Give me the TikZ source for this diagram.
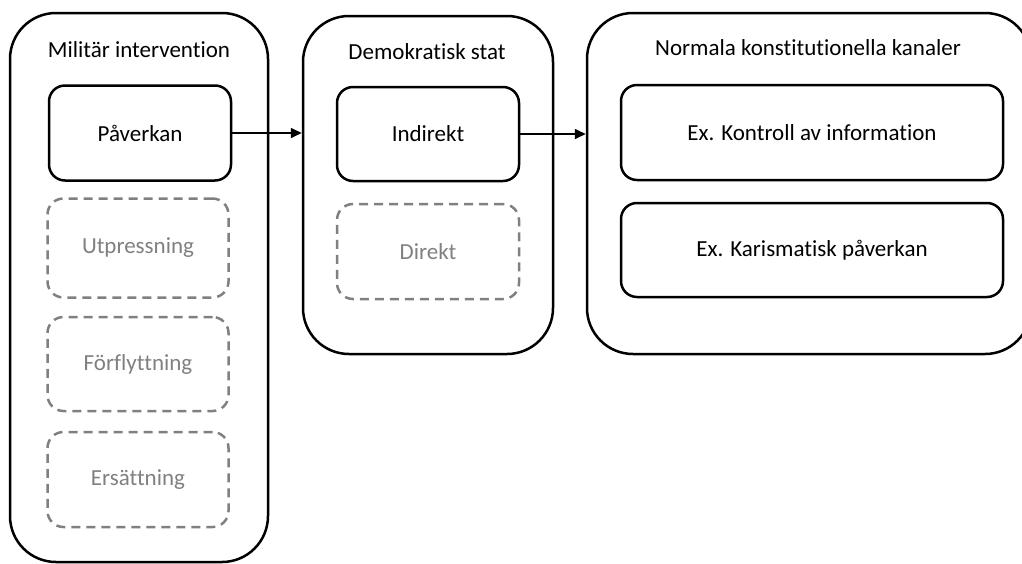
\documentclass[tikz,border=0pt]{standalone}
\usepackage{fontspec}
\setmainfont{Carlito}[Ligatures=NoCommon]
\usetikzlibrary{arrows.meta}
\tikzset{
  outerbox/.style={draw=black, line width=2.5pt, rounded corners=46pt, inner sep=0pt},
  solidbox/.style={draw=black, line width=2.5pt, rounded corners=16pt, inner sep=0pt,
    font=\fontsize{23}{27}\selectfont},
  ghostbox/.style={draw=black!50, line width=2.5pt, rounded corners=16pt, inner sep=0pt,
    dash pattern=on 9pt off 6pt, text=black!50, font=\fontsize{23}{27}\selectfont},
  title/.style={font=\fontsize{23}{27}\selectfont, inner sep=0pt},
  link/.style={line width=1.6pt, -{Triangle[length=11pt,width=10pt]}}
}
\begin{document}
\begin{tikzpicture}[x=1pt,y=-1pt]
\useasboundingbox (0,0) rectangle (1022,563);
% three containers
\node[outerbox, minimum width=258pt, minimum height=549pt] (mil) at (139,287.5) {};
\node[outerbox, minimum width=250pt, minimum height=338pt] (dem) at (428,185) {};
\node[outerbox, minimum width=444pt, minimum height=341pt] (nor) at (809,183.5) {};
% container titles
\node[title] (milT) at (139,50) {Militär intervention};
\node[title] (demT) at (427,52) {Demokratisk stat};
\node[title] (norT) at (808,48) {Normala konstitutionella kanaler};
% military intervention options
\node[solidbox, minimum width=182pt, minimum height=95pt] (pav) at (140,133) {Påverkan};
\node[ghostbox, minimum width=181pt, minimum height=99pt] (utp) at (138,248) {Utpressning};
\node[ghostbox, minimum width=181pt, minimum height=94pt] (forf) at (138,364) {Förflyttning};
\node[ghostbox, minimum width=181pt, minimum height=95pt] (ers) at (138,479.5) {Ersättning};
% democratic state
\node[solidbox, minimum width=182pt, minimum height=94pt] (ind) at (428,134) {Indirekt};
\node[ghostbox, minimum width=182pt, minimum height=95pt] (dir) at (428,251.5) {Direkt};
% constitutional channels
\node[solidbox, minimum width=382pt, minimum height=95pt] (kon) at (812,132.5) {Ex. Kontroll av information};
\node[solidbox, minimum width=382pt, minimum height=94pt] (kar) at (812,250) {Ex. Karismatisk påverkan};
% connectors
\draw[link] (pav.east) -- (pav.east -| dem.west);
\draw[link] (ind.east) -- (ind.east -| nor.west);
\end{tikzpicture}
\end{document}
